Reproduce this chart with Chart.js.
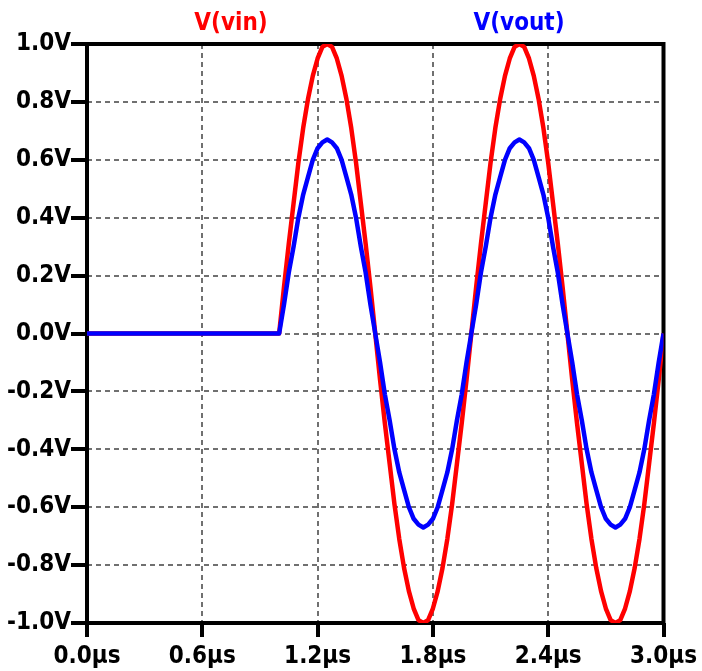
<!DOCTYPE html>
<html>
<head>
<meta charset="utf-8">
<script src="https://cdn.jsdelivr.net/npm/chart.js@4"></script>
<style>
  body { margin: 0; background: #fff; }
  canvas { display: block; }
</style>
</head>
<body>
<canvas id="plot" width="702" height="671"></canvas>
<script>
// transient run, time in microseconds
const timeUs = [0,
  1.000, 1.025, 1.050, 1.075, 1.100, 1.125, 1.150, 1.175, 1.200, 1.225,
  1.250, 1.275, 1.300, 1.325, 1.350, 1.375, 1.400, 1.425, 1.450, 1.475,
  1.500, 1.525, 1.550, 1.575, 1.600, 1.625, 1.650, 1.675, 1.700, 1.725,
  1.750, 1.775, 1.800, 1.825, 1.850, 1.875, 1.900, 1.925, 1.950, 1.975,
  2.000, 2.025, 2.050, 2.075, 2.100, 2.125, 2.150, 2.175, 2.200, 2.225,
  2.250, 2.275, 2.300, 2.325, 2.350, 2.375, 2.400, 2.425, 2.450, 2.475,
  2.500, 2.525, 2.550, 2.575, 2.600, 2.625, 2.650, 2.675, 2.700, 2.725,
  2.750, 2.775, 2.800, 2.825, 2.850, 2.875, 2.900, 2.925, 2.950, 2.975,
  3.000];

const vin = [0,
  0, 0.16, 0.31, 0.45, 0.59, 0.71, 0.81, 0.89, 0.95, 0.99,
  1.00, 0.99, 0.95, 0.89, 0.81, 0.71, 0.59, 0.45, 0.31, 0.16,
  0, -0.16, -0.31, -0.45, -0.59, -0.71, -0.81, -0.89, -0.95, -0.99,
  -1.00, -0.99, -0.95, -0.89, -0.81, -0.71, -0.59, -0.45, -0.31, -0.16,
  0, 0.16, 0.31, 0.45, 0.59, 0.71, 0.81, 0.89, 0.95, 0.99,
  1.00, 0.99, 0.95, 0.89, 0.81, 0.71, 0.59, 0.45, 0.31, 0.16,
  0, -0.16, -0.31, -0.45, -0.59, -0.71, -0.81, -0.89, -0.95, -0.99,
  -1.00, -0.99, -0.95, -0.89, -0.81, -0.71, -0.59, -0.45, -0.31, -0.16,
  0];

const vout = [0,
  0, 0.10, 0.21, 0.30, 0.40, 0.48, 0.54, 0.60, 0.64, 0.66,
  0.67, 0.66, 0.64, 0.60, 0.54, 0.48, 0.40, 0.30, 0.21, 0.10,
  0, -0.10, -0.21, -0.30, -0.40, -0.48, -0.54, -0.60, -0.64, -0.66,
  -0.67, -0.66, -0.64, -0.60, -0.54, -0.48, -0.40, -0.30, -0.21, -0.10,
  0, 0.10, 0.21, 0.30, 0.40, 0.48, 0.54, 0.60, 0.64, 0.66,
  0.67, 0.66, 0.64, 0.60, 0.54, 0.48, 0.40, 0.30, 0.21, 0.10,
  0, -0.10, -0.21, -0.30, -0.40, -0.48, -0.54, -0.60, -0.64, -0.66,
  -0.67, -0.66, -0.64, -0.60, -0.54, -0.48, -0.40, -0.30, -0.21, -0.10,
  0];

const traceNames = ['V(vin)', 'V(vout)'];
const traceColors = ['#ff0000', '#0000ff'];

const labelFont = { family: '"DejaVu Sans Condensed", "DejaVu Sans", sans-serif', size: 24, weight: 'bold' };

function points(ys) {
  return timeUs.map((t, i) => ({ x: t, y: ys[i] }));
}

// box round the plot area, under the traces
const frame = {
  id: 'frame',
  beforeDatasetsDraw(chart) {
    const a = chart.chartArea;
    const ctx = chart.ctx;
    ctx.save();
    ctx.strokeStyle = '#000';
    ctx.lineWidth = 4;
    ctx.strokeRect(a.left, a.top, a.right - a.left, a.bottom - a.top);
    ctx.restore();
  }
};

// trace names above the plot
const traceTitles = {
  id: 'traceTitles',
  afterDraw(chart) {
    const ctx = chart.ctx;
    ctx.save();
    ctx.font = 'bold 24px ' + labelFont.family;
    ctx.textAlign = 'center';
    ctx.textBaseline = 'middle';
    ctx.fillStyle = traceColors[0];
    ctx.fillText(traceNames[0], 231, 24);
    ctx.fillStyle = traceColors[1];
    ctx.fillText(traceNames[1], 519, 24);
    ctx.restore();
  }
};

new Chart(document.getElementById('plot'), {
  type: 'line',
  data: {
    datasets: [
      { label: traceNames[0], data: points(vin), borderColor: traceColors[0], order: 1 },
      { label: traceNames[1], data: points(vout), borderColor: traceColors[1], order: 0 }
    ]
  },
  options: {
    responsive: false,
    animation: false,
    layout: { padding: { top: 44, right: 38, left: 0, bottom: 0 } },
    elements: {
      line: { borderWidth: 4.5, tension: 0, fill: false, borderJoinStyle: 'round' },
      point: { radius: 0 }
    },
    plugins: { legend: { display: false }, tooltip: { enabled: false } },
    scales: {
      x: {
        type: 'linear',
        min: 0,
        max: 3,
        afterFit(scale) { scale.height = 48; },
        ticks: {
          stepSize: 0.6,
          color: '#000',
          font: labelFont,
          padding: 5,
          maxRotation: 0,
          callback: v => v.toFixed(1) + 'µs'
        },
        grid: { color: '#707070', lineWidth: 2, tickColor: '#000', tickWidth: 4, tickLength: 14 },
        border: { display: false, dash: [5, 4] }
      },
      y: {
        min: -1,
        max: 1,
        afterFit(scale) { scale.width = 87; },
        ticks: {
          stepSize: 0.2,
          color: '#000',
          font: labelFont,
          padding: 0,
          callback: v => (Math.abs(v) < 1e-9 ? 0 : v).toFixed(1) + 'V'
        },
        grid: { color: '#707070', lineWidth: 2, tickColor: '#000', tickWidth: 4, tickLength: 16 },
        border: { display: false, dash: [5, 4] }
      }
    }
  },
  plugins: [frame, traceTitles]
});
</script>
</body>
</html>
